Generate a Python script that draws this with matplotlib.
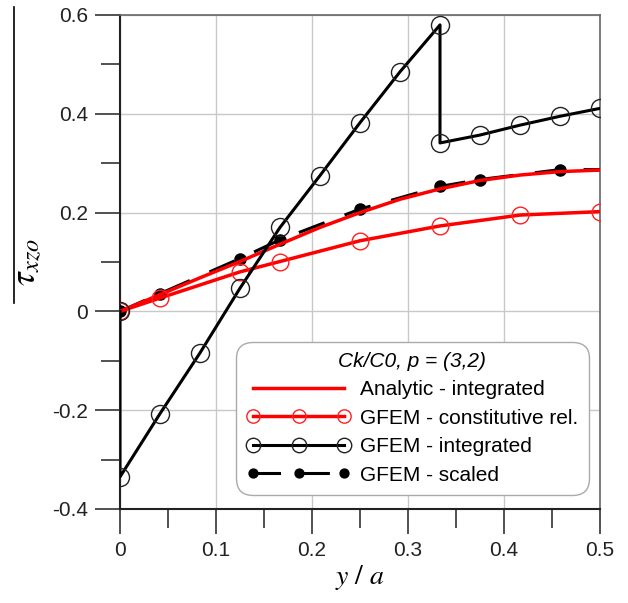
import matplotlib
matplotlib.use("Agg")
import matplotlib.pyplot as plt
from matplotlib.lines import Line2D
from matplotlib.ticker import MultipleLocator

plt.rcParams['font.family'] = ['Liberation Sans', 'DejaVu Sans']
plt.rcParams['mathtext.fontset'] = 'stix'

# ---- data ----
x_analytic = [0, 1/24, 1/12, 1/8, 1/6, 5/24, 1/4, 7/24, 1/3, 3/8, 5/12, 11/24, 1/2]
y_analytic = [0, 0.034, 0.068, 0.101, 0.136, 0.170, 0.200, 0.227, 0.248, 0.265, 0.276, 0.283, 0.286]

x_const = [0, 1/24, 1/8, 1/6, 1/4, 1/3, 5/12, 1/2]
y_const = [0, 0.027, 0.080, 0.101, 0.143, 0.173, 0.195, 0.202]

x_integ = [0, 0, 1/24, 1/12, 1/8, 1/6, 5/24, 1/4, 7/24, 1/3, 1/3, 3/8, 5/12, 11/24, 1/2]
y_integ = [0, -0.335, -0.207, -0.084, 0.047, 0.170, 0.275, 0.382, 0.485, 0.580, 0.341, 0.357, 0.377, 0.395, 0.411]

x_scaled = [0, 1/24, 1/8, 1/6, 1/4, 1/3, 3/8, 11/24, 1/2]
y_scaled = [0, 0.036, 0.107, 0.145, 0.207, 0.253, 0.267, 0.287, 0.287]

x_ticks = [0, 0.1, 0.2, 0.3, 0.4, 0.5]
x_ticklabels = ['0', '0.1', '0.2', '0.3', '0.4', '0.5']
y_ticks = [-0.4, -0.2, 0, 0.2, 0.4, 0.6]
y_ticklabels = ['-0.4', '-0.2', '0', '0.2', '0.4', '0.6']

legend_title = "Ck/C0, p = (3,2)"
labels = ["Analytic - integrated", "GFEM - constitutive rel.",
          "GFEM - integrated", "GFEM - scaled"]

# ---- figure ----
fig = plt.figure(figsize=(6.28, 6.03), dpi=100)
ax = fig.add_axes([120/628, 1 - 509/603, 480/628, 494/603])

h_scaled, = ax.plot(x_scaled, y_scaled, color='black', lw=2.2, linestyle=(0, (9, 7)),
                    marker='o', markersize=8, markerfacecolor='black',
                    markeredgecolor='black', markevery=list(range(len(x_scaled) - 1)),
                    zorder=3)
h_an, = ax.plot(x_analytic, y_analytic, color='#ff0000', lw=2.5, zorder=4)
h_con, = ax.plot(x_const, y_const, color='#ff0000', lw=2.5, marker='o', markersize=12,
                 markerfacecolor='none', markeredgecolor='#ff2020', markeredgewidth=1.0,
                 zorder=4)
h_int, = ax.plot(x_integ, y_integ, color='black', lw=2.2, marker='o', markersize=13,
                 markerfacecolor='none', markeredgecolor='#222222', markeredgewidth=1.0,
                 zorder=5)

ax.set_xlim(0, 0.5)
ax.set_ylim(-0.4, 0.6)
ax.set_xticks(x_ticks)
ax.set_xticklabels(x_ticklabels)
ax.set_yticks(y_ticks)
ax.set_yticklabels(y_ticklabels)
ax.xaxis.set_minor_locator(MultipleLocator(0.05))
ax.yaxis.set_minor_locator(MultipleLocator(0.1))

ax.grid(True, which='major', color='#c8c8c8', lw=1.0)
ax.set_axisbelow(True)
ax.tick_params(which='major', direction='out', length=18, width=1.2,
               color='#333333', labelsize=15, pad=5, labelcolor='#222222')
ax.tick_params(which='minor', direction='out', length=14, width=1.2,
               color='#333333')
for s in ['left', 'bottom']:
    ax.spines[s].set_color('#222222')
    ax.spines[s].set_linewidth(1.5)
for s in ['top', 'right']:
    ax.spines[s].set_color('#666666')
    ax.spines[s].set_linewidth(1.2)

ax.set_xlabel(r'$y\ /\ a$', fontsize=20, labelpad=2)

fig.text(28/628, 1 - 262/603, r'$\tau_{xzo}$', rotation=90, fontsize=25,
         ha='center', va='center')
fig.add_artist(Line2D([14/628, 14/628], [1 - 7/603, 1 - 303/603],
                      color='black', lw=1.2, transform=fig.transFigure))

leg = ax.legend([h_an, h_con, h_int, h_scaled], labels,
                loc='lower right', bbox_to_anchor=(0.985, 0.02),
                title=legend_title, fontsize=15, title_fontsize=15,
                frameon=True, fancybox=True, edgecolor='#aaaaaa',
                handlelength=5.0, handletextpad=0.45, borderpad=0.5,
                labelspacing=0.45, framealpha=1, markerscale=0.8,
                numpoints=3, borderaxespad=0.2)
leg.get_title().set_fontstyle('italic')
leg.get_frame().set_linewidth(1.0)
leg.get_frame().set_boxstyle('round,pad=0,rounding_size=0.8')

fig.savefig('out.png', dpi=100)
